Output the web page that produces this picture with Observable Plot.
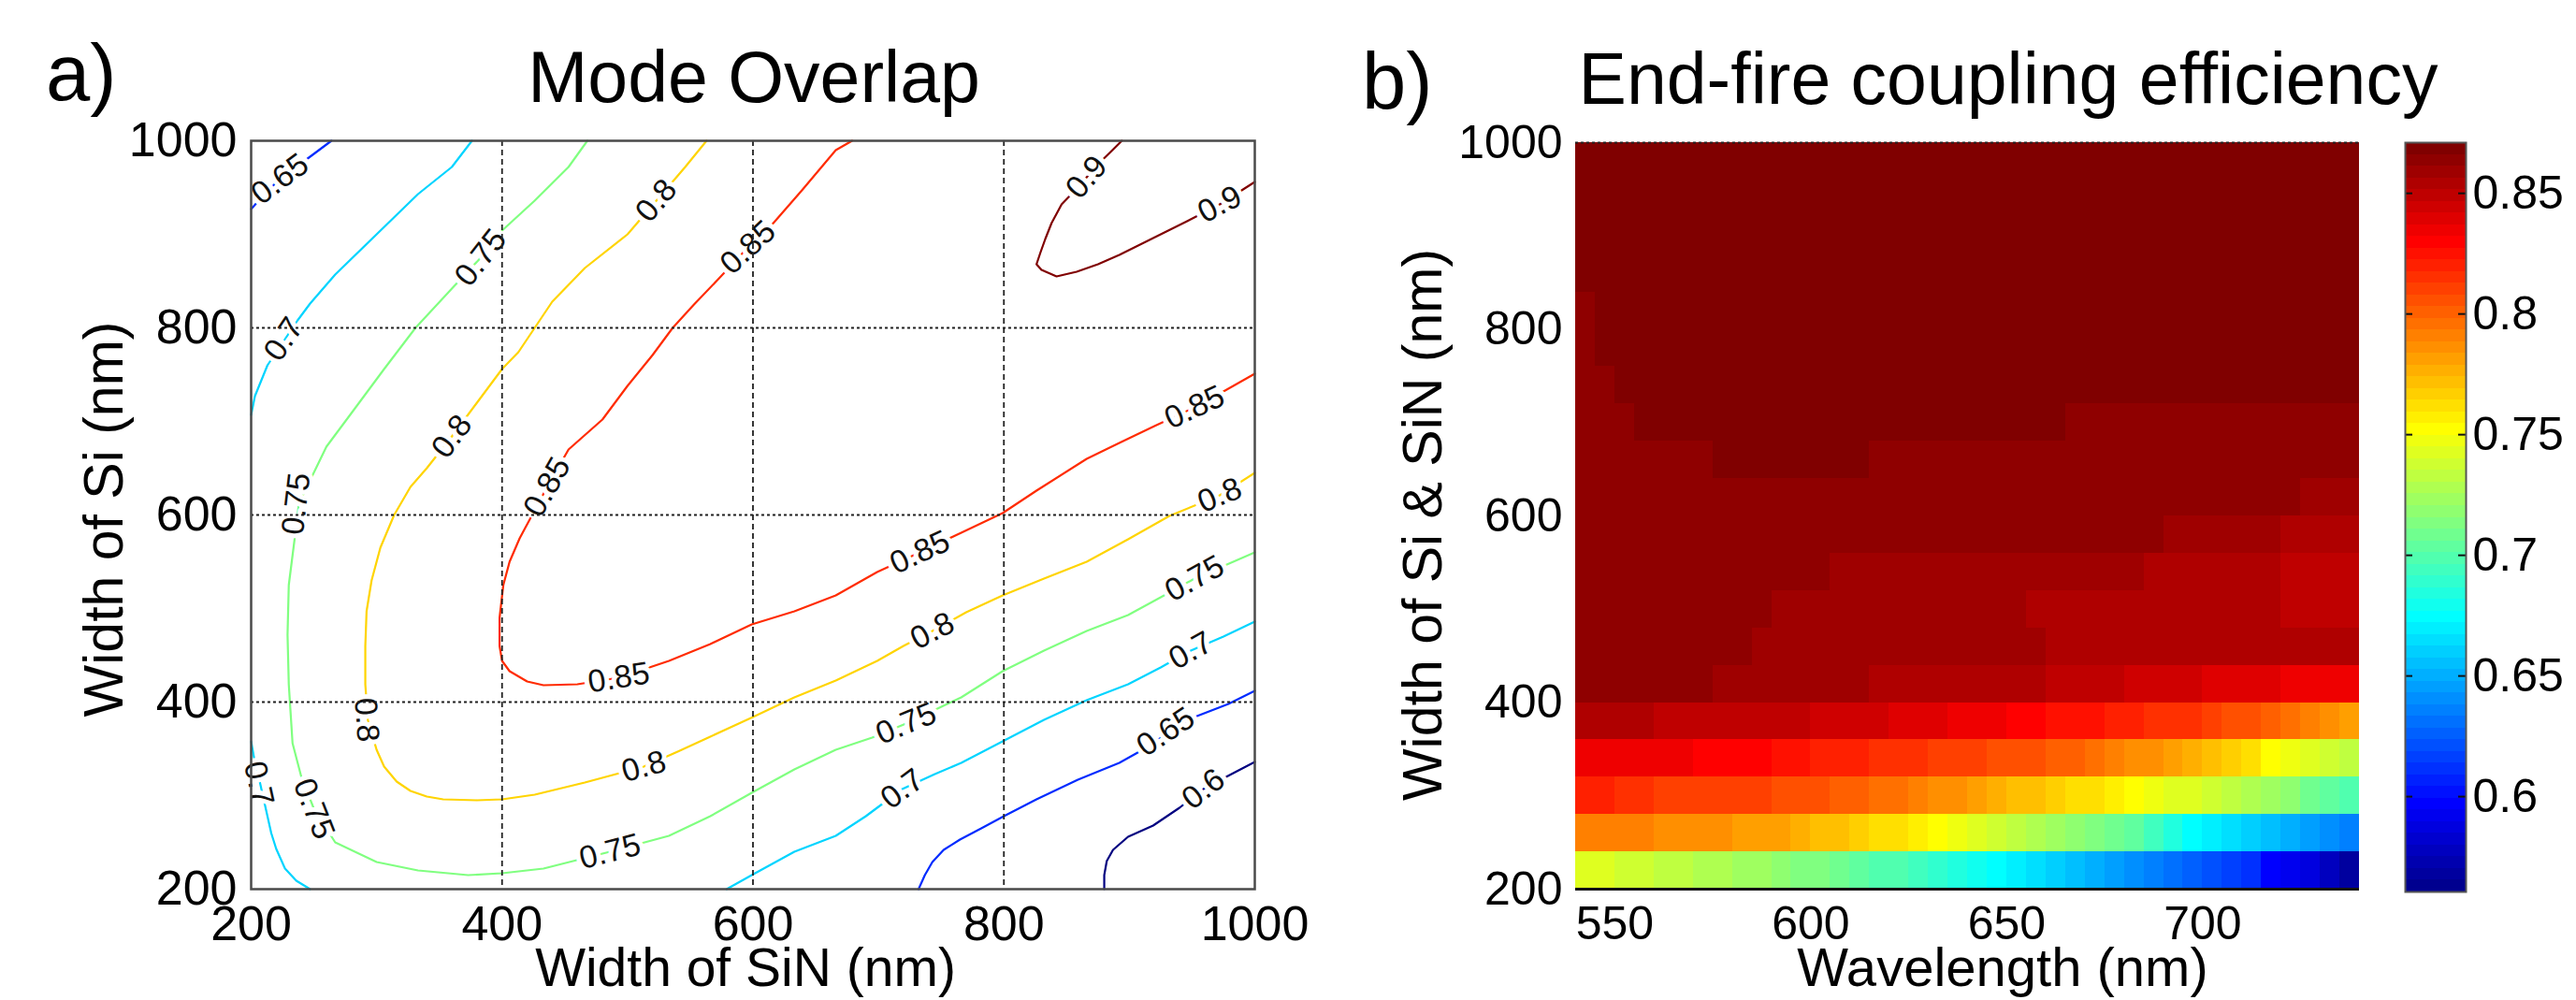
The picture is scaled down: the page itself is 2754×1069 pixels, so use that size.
<!DOCTYPE html>
<html><head><meta charset="utf-8">
<script src="https://cdn.jsdelivr.net/npm/d3@7"></script>
<script src="https://cdn.jsdelivr.net/npm/@observablehq/plot@0.6"></script>
<style>
body{margin:0;background:#fff;}
#root{position:relative;width:2754px;height:1069px;overflow:hidden;background:#fff;}
#root svg{position:absolute;max-width:none;}
</style></head>
<body><div id="root"></div>
<script>
// ================= Panel a: Mode Overlap (contours, SiN width x Si width) =================
const overlapTicks = [200, 400, 600, 800, 1000];
const overlapGrid = [400, 600, 800];
const contourLevels = [0.6, 0.65, 0.7, 0.75, 0.8, 0.85, 0.9];

const contour060 = [[880,200],[880,215],[882,230],[887,242],[899,256],[919,268],[940,287],[959,307],[980,322],[1000,336]];
const contour065a = [[264,1000],[250,986],[236,972],[222,958],[210,942],[200,927]];
const contour065b = [[732,200],[737,215],[743,229],[752,242],[765,253],[782,265],[800,278],[826,296],[859,317],[892,335],[912,350],[930,366],[952,384],[979,398],[1000,412]];
const contour070a = [[376,1000],[360,972],[333,943],[300,900],[267,857],[247,826],[237,808],[227,788],[213,760],[203,727],[200,707]];
const contour070b = [[200,358],[203,335],[207,314],[211,290],[216,260],[220,243],[227,222],[236,209],[247,200]];
const contour070c = [[579,200],[599,215],[633,240],[666,257],[690,278],[719,307],[745,323],[766,335],[799,358],[832,381],[866,402],[899,419],[925,437],[949,455],[975,470],[1000,486]];
const contour075 = [[468,1000],[453,972],[426,936],[400,904],[383,875],[360,842],[331,800],[306,756],[280,709],[260,673],[247,637],[238,612],[235,578],[230,525],[229,472],[230,419],[233,356],[240,320],[250,286],[267,250],[300,229],[333,220],[373,215],[400,217],[433,222],[486,240],[533,257],[566,278],[599,303],[633,328],[666,349],[695,362],[722,377],[766,405],[799,433],[832,455],[866,476],[899,493],[925,512],[952,532],[1000,560]];
const contour080 = [[563,1000],[546,972],[523,936],[500,900],[466,864],[440,828],[426,800],[413,774],[400,756],[380,720],[360,684],[340,650],[327,630],[314,600],[303,565],[296,530],[292,497],[291,460],[291,419],[293,381],[300,349],[306,331],[316,315],[327,305],[340,299],[353,296],[380,295],[400,296],[426,301],[466,314],[513,331],[540,347],[566,363],[600,384],[633,405],[666,423],[699,444],[720,460],[743,476],[770,496],[799,514],[832,532],[866,550],[899,574],[932,599],[972,621],[1000,645]];
const contour085 = [[679,1000],[666,990],[639,947],[613,907],[596,886],[573,853],[553,825],[536,800],[520,771],[500,738],[480,702],[453,670],[436,630],[424,600],[414,575],[406,550],[401,525],[398,490],[398,460],[400,444],[406,433],[420,422],[433,418],[460,419],[493,426],[533,444],[566,462],[599,483],[633,497],[666,514],[699,539],[733,560],[766,581],[799,602],[826,626],[866,660],[892,677],[920,695],[952,715],[975,732],[1000,751]];
const contour090 = [[894,1000],[885,988],[875,975],[866,961],[856,946],[846,932],[838,912],[833,895],[829,880],[826,868],[830,862],[842,855],[858,860],[875,868],[892,878],[919,896],[946,914],[972,932],[1000,956]];

const overlapContours = [
  {level: 0.6, pts: contour060},
  {level: 0.65, pts: contour065a},
  {level: 0.65, pts: contour065b},
  {level: 0.7, pts: contour070a},
  {level: 0.7, pts: contour070b},
  {level: 0.7, pts: contour070c},
  {level: 0.75, pts: contour075},
  {level: 0.8, pts: contour080},
  {level: 0.85, pts: contour085},
  {level: 0.9, pts: contour090}
];

// contour label positions (SiN width, Si width)
const labelLevel = [0.65, 0.7, 0.75, 0.8, 0.85, 0.9, 0.9, 0.75, 0.8, 0.85, 0.85, 0.8, 0.7, 0.75, 0.8, 0.85, 0.75, 0.8, 0.85, 0.8, 0.75, 0.7, 0.75, 0.7, 0.65, 0.6];
const labelSiN   = [223, 226, 383, 523, 596, 866, 972, 236, 360, 436, 952, 972, 206, 250, 292, 493, 486, 513, 733, 743, 722, 719, 952, 949, 929, 959];
const labelSi    = [959, 788, 875, 936, 886, 961, 932, 612, 684, 630, 715, 621, 313, 286, 381, 426, 240, 331, 560, 476, 377, 307, 532, 455, 368, 307];

// ================= Panel b: End-fire coupling efficiency =================
const wavelengthEdges = [540,545,550,555,560,565,570,575,580,585,590,595,600,605,610,615,620,625,630,635,640,645,650,655,660,665,670,675,680,685,690,695,700,705,710,715,720,725,730,735,740];
const widthEdges = [200,240,280,320,360,400,440,480,520,560,600,640,680,720,760,800,840,880,920,960,1000];
const wavelengthTicks = [550, 600, 650, 700];
const widthTicks = [200, 400, 600, 800, 1000];
const colorbarTicks = [0.6, 0.65, 0.7, 0.75, 0.8, 0.85];
const colorLimits = [0.5605, 0.871];

const eff200 = [0.743,0.743,0.738,0.738,0.733,0.733,0.728,0.728,0.723,0.723,
  0.718,0.713,0.713,0.709,0.704,0.699,0.699,0.694,0.689,0.684,
  0.680,0.675,0.670,0.665,0.660,0.655,0.650,0.646,0.641,0.636,
  0.631,0.626,0.621,0.616,0.612,0.597,0.592,0.587,0.578,0.568];
const eff240 = [0.791,0.791,0.791,0.791,0.786,0.786,0.786,0.786,0.781,0.781,
  0.781,0.777,0.772,0.772,0.767,0.762,0.762,0.757,0.752,0.747,
  0.743,0.738,0.733,0.728,0.723,0.718,0.713,0.709,0.704,0.694,
  0.684,0.675,0.670,0.665,0.660,0.655,0.650,0.646,0.641,0.636];
const eff280 = [0.820,0.820,0.815,0.815,0.810,0.810,0.810,0.810,0.810,0.810,
  0.806,0.806,0.806,0.801,0.801,0.796,0.796,0.791,0.786,0.786,
  0.781,0.777,0.772,0.772,0.767,0.762,0.762,0.757,0.752,0.747,
  0.743,0.743,0.738,0.733,0.728,0.723,0.718,0.709,0.704,0.699];
const eff320 = [0.835,0.835,0.835,0.835,0.835,0.835,0.830,0.830,0.830,0.830,
  0.825,0.825,0.820,0.820,0.820,0.815,0.815,0.815,0.810,0.810,
  0.810,0.806,0.806,0.806,0.801,0.801,0.796,0.791,0.786,0.786,
  0.781,0.777,0.772,0.767,0.762,0.752,0.747,0.743,0.738,0.733];
const eff360 = [0.854,0.854,0.854,0.854,0.849,0.849,0.849,0.849,0.849,0.849,
  0.849,0.849,0.844,0.844,0.844,0.844,0.840,0.840,0.840,0.835,
  0.835,0.835,0.830,0.830,0.825,0.825,0.825,0.820,0.820,0.815,
  0.815,0.815,0.810,0.806,0.806,0.801,0.796,0.791,0.786,0.781];
const eff400 = [0.864,0.864,0.864,0.864,0.864,0.864,0.864,0.859,0.859,0.859,
  0.859,0.859,0.859,0.859,0.859,0.854,0.854,0.854,0.854,0.854,
  0.854,0.854,0.854,0.854,0.849,0.849,0.849,0.849,0.844,0.844,
  0.844,0.844,0.840,0.840,0.840,0.840,0.835,0.835,0.835,0.835];
const eff440 = [0.864,0.864,0.864,0.864,0.864,0.864,0.864,0.864,0.864,0.859,
  0.859,0.859,0.859,0.859,0.859,0.859,0.859,0.859,0.859,0.859,
  0.859,0.859,0.859,0.859,0.854,0.854,0.854,0.854,0.854,0.854,
  0.854,0.854,0.854,0.854,0.854,0.854,0.854,0.854,0.854,0.854];
const eff480 = [0.864,0.864,0.864,0.864,0.864,0.864,0.864,0.864,0.864,0.864,
  0.859,0.859,0.859,0.859,0.859,0.859,0.859,0.859,0.859,0.859,
  0.859,0.859,0.859,0.854,0.854,0.854,0.854,0.854,0.854,0.854,
  0.854,0.854,0.854,0.854,0.854,0.854,0.849,0.849,0.849,0.849];
const eff520 = [0.864,0.864,0.864,0.864,0.864,0.864,0.864,0.864,0.864,0.864,
  0.864,0.864,0.864,0.859,0.859,0.859,0.859,0.859,0.859,0.859,
  0.859,0.859,0.859,0.859,0.859,0.859,0.859,0.859,0.859,0.854,
  0.854,0.854,0.854,0.854,0.854,0.854,0.849,0.849,0.849,0.849];
const eff560 = [0.864,0.864,0.864,0.864,0.864,0.864,0.864,0.864,0.864,0.864,
  0.864,0.864,0.864,0.864,0.864,0.864,0.864,0.864,0.864,0.864,
  0.864,0.864,0.864,0.864,0.864,0.864,0.864,0.864,0.864,0.864,
  0.859,0.859,0.859,0.859,0.859,0.859,0.854,0.854,0.854,0.854];
const eff600 = [0.864,0.864,0.864,0.864,0.864,0.864,0.864,0.864,0.864,0.864,
  0.864,0.864,0.864,0.864,0.864,0.864,0.864,0.864,0.864,0.864,
  0.864,0.864,0.864,0.864,0.864,0.864,0.864,0.864,0.864,0.864,
  0.864,0.864,0.864,0.864,0.864,0.864,0.864,0.859,0.859,0.859];
const eff640 = [0.864,0.864,0.864,0.864,0.864,0.864,0.864,0.869,0.869,0.869,
  0.869,0.869,0.869,0.869,0.869,0.864,0.864,0.864,0.864,0.864,
  0.864,0.864,0.864,0.864,0.864,0.864,0.864,0.864,0.864,0.864,
  0.864,0.864,0.864,0.864,0.864,0.864,0.864,0.864,0.864,0.864];
const eff680 = [0.864,0.864,0.864,0.869,0.869,0.869,0.869,0.869,0.869,0.869,
  0.869,0.869,0.869,0.869,0.869,0.869,0.869,0.869,0.869,0.869,
  0.869,0.869,0.869,0.869,0.869,0.864,0.864,0.864,0.864,0.864,
  0.864,0.864,0.864,0.864,0.864,0.864,0.864,0.864,0.864,0.864];
const eff720 = [0.864,0.864,0.869,0.869,0.869,0.869,0.869,0.869,0.869,0.869,
  0.869,0.869,0.869,0.869,0.869,0.869,0.869,0.869,0.869,0.869,
  0.869,0.869,0.869,0.869,0.869,0.869,0.869,0.869,0.869,0.869,
  0.869,0.869,0.869,0.869,0.869,0.869,0.869,0.869,0.869,0.869];
const eff760 = [0.864,0.869,0.869,0.869,0.869,0.869,0.869,0.869,0.869,0.869,
  0.869,0.869,0.869,0.869,0.869,0.869,0.869,0.869,0.869,0.869,
  0.869,0.869,0.869,0.869,0.869,0.869,0.869,0.869,0.869,0.869,
  0.869,0.869,0.869,0.869,0.869,0.869,0.869,0.869,0.869,0.869];
const eff800 = [0.864,0.869,0.869,0.869,0.869,0.869,0.869,0.869,0.869,0.869,
  0.869,0.869,0.869,0.869,0.869,0.869,0.869,0.869,0.869,0.869,
  0.869,0.869,0.869,0.869,0.869,0.869,0.869,0.869,0.869,0.869,
  0.869,0.869,0.869,0.869,0.869,0.869,0.869,0.869,0.869,0.869];
const eff840 = [0.869,0.869,0.869,0.869,0.869,0.869,0.869,0.869,0.869,0.869,
  0.869,0.869,0.869,0.869,0.869,0.869,0.869,0.869,0.869,0.869,
  0.869,0.869,0.869,0.869,0.869,0.869,0.869,0.869,0.869,0.869,
  0.869,0.869,0.869,0.869,0.869,0.869,0.869,0.869,0.869,0.869];
const eff880 = eff840.slice();
const eff920 = eff840.slice();
const eff960 = eff840.slice();
const efficiencyRows = [eff200, eff240, eff280, eff320, eff360, eff400, eff440, eff480, eff520, eff560,
  eff600, eff640, eff680, eff720, eff760, eff800, eff840, eff880, eff920, eff960];

// ================= colour maps =================
function buildJet64() {
  const m = 64, n = 16, u = [];
  for (let k = 1; k <= n; k++) u.push(k / n);
  for (let k = 0; k < n - 1; k++) u.push(1);
  for (let k = n; k >= 1; k--) u.push(k / n);
  const g0 = Math.ceil(n / 2) - (m % 4 === 1 ? 1 : 0);
  const J = Array.from({length: m}, () => [0, 0, 0]);
  u.forEach((val, k) => {
    const gi = g0 + k + 1, ri = gi + n, bi = gi - n;
    if (ri >= 1 && ri <= m) J[ri - 1][0] = val;
    if (gi >= 1 && gi <= m) J[gi - 1][1] = val;
    if (bi >= 1 && bi <= m) J[bi - 1][2] = val;
  });
  return J.map(([r, g, b]) => d3.rgb(r * 255, g * 255, b * 255).formatHex());
}
const JET64 = buildJet64();
function jetContinuous(t) {
  const c = v => Math.max(0, Math.min(1, v));
  const r = c(Math.min(4 * t - 1.5, -4 * t + 4.5));
  const g = c(Math.min(4 * t - 0.5, -4 * t + 3.5));
  const b = c(Math.min(4 * t + 0.5, -4 * t + 2.5));
  return d3.rgb(r * 255, g * 255, b * 255).formatHex();
}

const FONT = '"Liberation Sans", Arial, Helvetica, sans-serif';
const W = 2754, H = 1069;
const root = document.getElementById("root");
const plainNumber = d => String(d);

// ================= Panel a plot =================
const A = {width: 1440, ml: 268, mr: 99, mt: 150, mb: 119};
const aInnerW = A.width - A.ml - A.mr, aInnerH = H - A.mt - A.mb;
const kx = aInnerW / 800, ky = aInnerH / 800;

const contourPoints = overlapContours.flatMap((c, i) => c.pts.map(([x, y]) => ({id: i, level: c.level, x, y})));

const contourLabels = labelLevel.map((level, i) => {
  const px = labelSiN[i], py = labelSi[i];
  let best = null, bd = Infinity;
  for (const c of overlapContours) {
    if (c.level !== level) continue;
    for (let j = 0; j < c.pts.length - 1; j++) {
      const [x0, y0] = c.pts[j], [x1, y1] = c.pts[j + 1];
      const ax = x0 * kx, ay = y0 * ky, bx = x1 * kx, by = y1 * ky, qx = px * kx, qy = py * ky;
      const dx = bx - ax, dy = by - ay;
      const t = Math.max(0, Math.min(1, ((qx - ax) * dx + (qy - ay) * dy) / (dx * dx + dy * dy || 1)));
      const d = Math.hypot(ax + t * dx - qx, ay + t * dy - qy);
      if (d < bd) { bd = d; best = [dx, dy]; }
    }
  }
  let ang = Math.atan2(-best[1], best[0]) * 180 / Math.PI;
  if (ang > 90) ang -= 180;
  if (ang <= -90) ang += 180;
  return {level, x: px, y: py, angle: ang, text: String(level)};
});

const plotA = Plot.plot({
  width: A.width, height: H,
  marginLeft: A.ml, marginRight: A.mr, marginTop: A.mt, marginBottom: A.mb,
  x: {domain: [200, 1000]},
  y: {domain: [200, 1000]},
  color: {type: "linear", domain: [0.6, 0.9], interpolate: (t) => jetContinuous(t)},
  style: {fontFamily: FONT, fontSize: "52px", color: "#000", background: "transparent"},
  marks: [
    Plot.line(contourPoints, {x: "x", y: "y", z: "id", stroke: "level", strokeWidth: 2.2}),
    Plot.text(contourLabels, {x: "x", y: "y", text: "text", rotate: "angle", fontSize: 34, fill: "#111",
      stroke: "white", strokeWidth: 10, paintOrder: "stroke", fontFamily: FONT}),
    Plot.ruleX(overlapGrid, {stroke: "#222", strokeWidth: 1.8, strokeDasharray: "6,4"}),
    Plot.ruleY(overlapGrid, {stroke: "#222", strokeWidth: 1.8, strokeDasharray: "3,3"}),
    Plot.frame({stroke: "#4a4a4a", strokeWidth: 2.5}),
    Plot.axisX(overlapTicks, {tickSize: 0, tickPadding: 18, tickFormat: plainNumber, label: null}),
    Plot.axisY(overlapTicks, {tickSize: 0, tickPadding: 15, tickFormat: plainNumber, label: null})
  ]
});
plotA.style.left = "0px"; plotA.style.top = "0px";
root.appendChild(plotA);

// ================= Panel b heatmap =================
const cells = [];
efficiencyRows.forEach((row, r) => row.forEach((v, c) => cells.push({
  x1: wavelengthEdges[c], x2: wavelengthEdges[c + 1], y1: widthEdges[r], y2: widthEdges[r + 1], v
})));

const colorScale = {type: "quantize", domain: colorLimits, range: JET64};

const B = {left: 1440, width: 1100, ml: 244, mr: 18, mt: 152, mb: 119};
const plotB = Plot.plot({
  width: B.width, height: H,
  marginLeft: B.ml, marginRight: B.mr, marginTop: B.mt, marginBottom: B.mb,
  x: {domain: [540, 740]},
  y: {domain: [200, 1000]},
  color: colorScale,
  style: {fontFamily: FONT, fontSize: "50px", color: "#000", background: "transparent"},
  marks: [
    Plot.rect(cells, {x1: "x1", x2: "x2", y1: "y1", y2: "y2", fill: "v", shapeRendering: "crispEdges"}),
    Plot.ruleY([200], {stroke: "#111", strokeWidth: 3}),
    Plot.ruleY([1000], {stroke: "#222", strokeWidth: 2, strokeDasharray: "3,3"}),
    Plot.axisX(wavelengthTicks, {tickSize: 0, tickPadding: 18, tickFormat: plainNumber, label: null}),
    Plot.axisY(widthTicks, {tickSize: 0, tickPadding: 14, tickFormat: plainNumber, label: null})
  ]
});
plotB.style.left = B.left + "px"; plotB.style.top = "0px";
root.appendChild(plotB);

// ================= colour bar =================
const step = (colorLimits[1] - colorLimits[0]) / JET64.length;
const bands = d3.range(JET64.length).map(k => ({
  y1: colorLimits[0] + k * step, y2: colorLimits[0] + (k + 1) * step, v: colorLimits[0] + (k + 0.5) * step
}));
const CB = {left: 2540, width: 214, ml: 31, mr: 118, mt: 152, mb: 116};
const plotC = Plot.plot({
  width: CB.width, height: H,
  marginLeft: CB.ml, marginRight: CB.mr, marginTop: CB.mt, marginBottom: CB.mb,
  y: {domain: colorLimits},
  color: colorScale,
  style: {fontFamily: FONT, fontSize: "50px", color: "#000", background: "transparent"},
  marks: [
    Plot.rect(bands, {y1: "y1", y2: "y2", fill: "v", shapeRendering: "crispEdges"}),
    Plot.tickY(colorbarTicks, {stroke: "#111", strokeWidth: 2, insetRight: 57}),
    Plot.tickY(colorbarTicks, {stroke: "#111", strokeWidth: 2, insetLeft: 57}),
    Plot.frame({stroke: "#555", strokeWidth: 2}),
    Plot.axisY(colorbarTicks, {anchor: "right", tickSize: 0, tickPadding: 7, tickFormat: plainNumber, label: null})
  ]
});
plotC.style.left = CB.left + "px"; plotC.style.top = "0px";
root.appendChild(plotC);

// ================= titles and axis titles =================
const overlay = d3.create("svg").attr("width", W).attr("height", H)
  .style("left", "0px").style("top", "0px").style("pointer-events", "none")
  .attr("font-family", FONT).attr("fill", "#000");
function addText(x, y, str, size, anchor = "middle", rot = 0) {
  overlay.append("text").attr("transform", `translate(${x},${y}) rotate(${rot})`)
    .attr("text-anchor", anchor).attr("font-size", size).text(str);
}
addText(49, 107, "a)", 85, "start");
addText(806, 109, "Mode Overlap", 77);
addText(797, 1054, "Width of SiN (nm)", 57);
addText(131, 555, "Width of Si (nm)", 59, "middle", -90);
addText(1456, 116, "b)", 85, "start");
addText(2147, 111, "End-fire coupling efficiency", 77);
addText(2141, 1054, "Wavelength (nm)", 58);
addText(1541, 561, "Width of Si & SiN (nm)", 59, "middle", -90);
root.appendChild(overlay.node());
</script>
</body></html>
